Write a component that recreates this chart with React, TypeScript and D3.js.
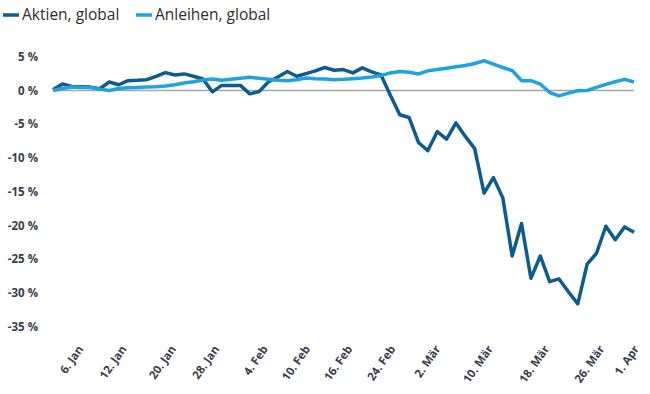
import React from "react";
import * as d3 from "d3";

const aktien: number[] = [
  0.1, 0.95, 0.6, 0.55, 0.5, 0.25, 1.25, 0.85, 1.45, 1.5, 1.6, 2.1, 2.65, 2.3, 2.45, 2.1,
  1.7, -0.2, 0.75, 0.75, 0.75, -0.5, -0.15, 1.3, 2.0, 2.8, 2.1, 2.5, 2.9, 3.4, 3.0, 3.1,
  2.6, 3.35, 2.75, 2.3, -0.7, -3.6, -4.0, -7.7, -8.9, -6.1, -7.2, -4.8, -6.8, -8.6, -15.2,
  -12.9, -15.9, -24.5, -19.7, -27.8, -24.5, -28.3, -27.9, -29.8, -31.6, -25.7, -24.1,
  -20.1, -22.1, -20.2, -21.0,
];

const anleihen: number[] = [
  0.0, 0.3, 0.5, 0.45, 0.45, 0.2, 0.0, 0.3, 0.4, 0.45, 0.5, 0.55, 0.65, 0.85, 1.1, 1.3,
  1.55, 1.7, 1.5, 1.65, 1.8, 1.95, 1.8, 1.65, 1.5, 1.45, 1.6, 1.85, 1.75, 1.7, 1.6, 1.65,
  1.75, 1.85, 2.0, 2.2, 2.6, 2.8, 2.7, 2.45, 2.9, 3.1, 3.3, 3.5, 3.7, 4.0, 4.4, 3.9, 3.4,
  2.95, 1.45, 1.45, 0.95, -0.3, -0.8, -0.4, -0.05, 0.0, 0.45, 0.9, 1.3, 1.65, 1.25,
];

const xTickLabels: string[] = [
  "6. Jan", "12. Jan", "20. Jan", "28. Jan", "4. Feb", "10. Feb", "16. Feb",
  "24. Feb", "2. Mär", "10. Mär", "18. Mär", "26. Mär", "1. Apr",
];
const xTickPos: number[] = [3.3, 7.9, 13.2, 17.8, 23.0, 27.5, 32.0, 36.6, 41.4, 47.0, 53.0, 58.9, 62.6];

const yTicks: number[] = [5, 0, -5, -10, -15, -20, -25, -30, -35];

const seriesNames: string[] = ["Aktien, global", "Anleihen, global"];
const seriesColors: string[] = ["#0d5b8f", "#1ea3e0"];

export default function App() {
  const W = 650;
  const H = 394;
  const n = aktien.length;
  const x = d3.scaleLinear().domain([0, n - 1]).range([53, 634]);
  const y = d3.scaleLinear().domain([-35, 5]).range([326.9, 56.7]);
  const line = d3
    .line<number>()
    .x((_, i) => x(i))
    .y((d) => y(d))
    .curve(d3.curveLinear);

  const tickFont = "'Open Sans', sans-serif";
  const series = [aktien, anleihen];

  return (
    <svg
      width={W}
      height={H}
      style={{ position: "absolute", left: 0, top: 0, background: "#fff" }}
    >
      {seriesNames.map((name, i) => {
        const lx = i === 0 ? 3 : 136;
        return (
          <g key={name}>
            <line x1={lx} x2={lx + 16} y1={15} y2={15} stroke={seriesColors[i]} strokeWidth={3.5} />
            <text x={lx + 19} y={20} fontFamily={tickFont} fontSize={15.5} fill="#2e2e2e">
              {name}
            </text>
          </g>
        );
      })}

      {yTicks.map((t) => (
        <text
          key={t}
          x={38}
          y={y(t)}
          dy="0.35em"
          textAnchor="end"
          fontFamily={tickFont}
          fontWeight={700}
          fontSize={11.5}
          fill="#3a3e4c"
        >
          {`${t} %`}
        </text>
      ))}

      <line x1={x(0)} x2={x(n - 1)} y1={y(0)} y2={y(0)} stroke="#a6a6a6" strokeWidth={1.5} />

      {series.map((s, i) => (
        <path
          key={i}
          d={line(s) || ""}
          fill="none"
          stroke={seriesColors[i]}
          strokeWidth={3.5}
          strokeLinejoin="round"
        />
      ))}

      {xTickLabels.map((lab, i) => {
        const tx = x(xTickPos[i]);
        const ty = 349;
        return (
          <text
            key={lab}
            x={tx}
            y={ty}
            transform={`rotate(-55, ${tx}, ${ty})`}
            textAnchor="end"
            fontFamily={tickFont}
            fontWeight={700}
            fontSize={11.5}
            fill="#3a3e4c"
          >
            {lab}
          </text>
        );
      })}
    </svg>
  );
}
